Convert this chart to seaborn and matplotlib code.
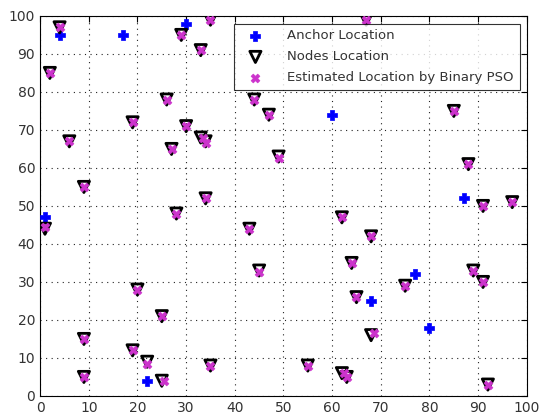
import pandas as pd
import seaborn as sns
import matplotlib.pyplot as plt

# anchor positions
anchor_x = [4, 17, 30, 1, 22, 60, 68, 77, 80, 87]
anchor_y = [95, 95, 98, 47, 4, 74, 25, 32, 18, 52]

# true node positions
node_x = [4, 2, 6, 9, 1, 9, 9, 19, 20, 19, 22, 25, 25, 26, 27, 28, 29, 30, 33, 33,
          34, 34, 35, 35, 43, 44, 45, 47, 49, 55, 62, 62, 63, 64, 65, 67, 68, 68,
          75, 85, 88, 89, 91, 91, 92, 97]
node_y = [97, 85, 67, 55, 44, 15, 5, 72, 28, 12, 9, 21, 4, 78, 65, 48, 95, 71, 91, 68,
          67, 52, 99, 8, 44, 78, 33, 74, 63, 8, 47, 6, 5, 35, 26, 99, 42, 16,
          29, 75, 61, 33, 30, 50, 3, 51]

# estimated positions (binary PSO)
est_x = [4, 2, 6, 9, 1, 9, 9, 19, 20, 19, 22, 25, 25.5, 26, 27, 28, 29, 30, 33, 33.5,
         34, 34, 35, 35, 43, 44, 45, 47, 49, 55, 62, 62.5, 63, 64, 65, 67, 68, 68.5,
         75, 85, 88, 89, 91, 91, 92, 97]
est_y = [97, 85, 67, 55, 44.5, 15, 5, 72, 28, 12, 8.5, 21, 4, 78, 65, 48, 95, 71, 91, 68,
         66.5, 52, 99, 8, 44, 78, 32.5, 74, 62.5, 8, 47, 6, 5, 35, 26, 99, 42, 16.5,
         29, 75, 61, 33, 30, 50, 3, 51]

anchors = pd.DataFrame({"x": anchor_x, "y": anchor_y})
nodes = pd.DataFrame({"x": node_x, "y": node_y})
est = pd.DataFrame({"x": est_x, "y": est_y})

sns.set_style("white")
plt.rcParams["font.family"] = ["DejaVu Sans"]

fig = plt.figure(figsize=(5.42, 4.19), dpi=100)
ax = fig.add_axes([0.074, 0.055, 0.898, 0.907])

sns.scatterplot(data=anchors, x="x", y="y", ax=ax, marker="P", s=50,
                color="#0000ff", edgecolor="#0000ff", linewidth=0.5,
                label="Anchor Location", zorder=3)
sns.scatterplot(data=nodes, x="x", y="y", ax=ax, marker="v", s=65,
                facecolor="none", edgecolor="black", linewidth=2,
                label="Nodes Location", zorder=3)
sns.scatterplot(data=est, x="x", y="y", ax=ax, marker="X", s=40,
                color="#cc33cc", edgecolor="#cc33cc", linewidth=0.5,
                label="Estimated Location by Binary PSO", zorder=4)

ax.set_xlim(0, 100)
ax.set_ylim(0, 100)
ax.set_xticks(range(0, 101, 10))
ax.set_yticks(range(0, 101, 10))
ax.set_xlabel("")
ax.set_ylabel("")
ax.grid(True, linestyle=(0, (1, 4)), color="#222222", linewidth=0.8)
ax.tick_params(direction="in", top=True, right=True, length=4,
               labelsize=10, colors="black", labelcolor="#333333")
for sp in ax.spines.values():
    sp.set_visible(True)
    sp.set_color("black")
    sp.set_linewidth(0.8)

leg = ax.legend(loc="upper right", bbox_to_anchor=(0.985, 0.98), fontsize=9.5,
                frameon=True, fancybox=False, edgecolor="black",
                borderpad=0.45, handletextpad=1.2, labelspacing=0.6,
                handlelength=2.4, borderaxespad=0)
leg.get_frame().set_linewidth(0.8)
leg.set_zorder(10)
for t in leg.get_texts():
    t.set_color("#333333")

plt.savefig("out.png", dpi=100)
plt.close()
